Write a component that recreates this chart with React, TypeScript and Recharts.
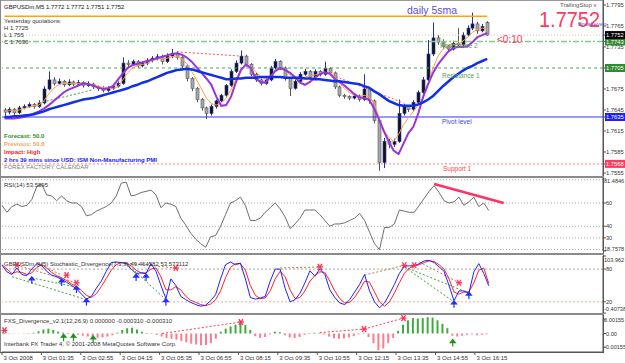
import React from 'react'
import { ComposedChart, Bar, Line, XAxis, YAxis, ReferenceLine, ReferenceDot, Cell } from 'recharts'

const FONT = '"Liberation Sans", Arial, sans-serif'
const W = 625
const SLOTS = 122

// prices are in pips above 1.7500 (GBPUSD M5, 3 Oct 2008)
const opens = [
  145, 142, 146, 141, 148, 150, 153, 150, 155, 175,
  188, 183, 186, 181, 185, 182, 184, 180, 182, 178,
  176, 173, 176, 179, 183, 212, 210, 214, 208, 212,
  216, 219, 221, 214, 222, 226, 220, 208, 190, 176,
  160, 148, 140, 150, 158, 166, 180, 200, 212, 222,
  210, 196, 188, 183, 188, 205, 214, 205, 190, 176,
  186, 196, 200, 192, 200, 196, 204, 198, 178, 166,
  164, 162, 165, 160, 175, 158, 130, 70, 100, 96,
  100, 140, 150, 146, 156, 170, 188, 225, 248, 242,
  236, 232, 240, 238, 252, 262, 268, 258, 270,
]
const highs = [
  148, 149, 148, 151, 153, 156, 155, 159, 179, 200,
  192, 190, 188, 189, 187, 188, 186, 186, 184, 180,
  179, 179, 182, 186, 220, 216, 217, 216, 215, 219,
  222, 225, 224, 226, 232, 229, 222, 210, 192, 178,
  162, 150, 153, 160, 168, 182, 203, 216, 230, 224,
  212, 198, 190, 191, 208, 218, 216, 207, 192, 189,
  199, 204, 202, 203, 202, 214, 206, 200, 180, 168,
  166, 168, 167, 196, 177, 160, 132, 105, 104, 104,
  160, 154, 152, 159, 173, 192, 245, 270, 252, 246,
  238, 244, 262, 256, 266, 284, 271, 268, 272,
]
const lows = [
  136, 139, 138, 139, 146, 148, 147, 148, 153, 173,
  180, 181, 178, 179, 179, 180, 177, 178, 175, 172,
  170, 171, 174, 177, 181, 206, 208, 205, 206, 209,
  213, 216, 210, 212, 219, 217, 204, 186, 172, 156,
  144, 132, 137, 147, 156, 164, 178, 198, 210, 207,
  193, 185, 180, 181, 186, 203, 202, 187, 165, 174,
  184, 194, 189, 190, 193, 194, 195, 175, 163, 161,
  159, 160, 157, 158, 154, 126, 58, 62, 90, 92,
  98, 137, 142, 143, 154, 167, 186, 222, 238, 232,
  228, 230, 235, 236, 250, 259, 254, 256, 251,
]
const closes = [
  142, 146, 141, 148, 150, 153, 150, 155, 175, 188,
  183, 186, 181, 185, 182, 184, 180, 182, 178, 176,
  173, 176, 179, 183, 212, 210, 214, 208, 212, 216,
  219, 221, 214, 222, 226, 220, 208, 190, 176, 160,
  148, 140, 150, 158, 166, 180, 200, 212, 222, 210,
  196, 188, 183, 188, 205, 214, 205, 190, 176, 186,
  196, 200, 192, 200, 196, 204, 198, 178, 166, 164,
  162, 165, 160, 175, 158, 130, 70, 100, 96, 100,
  140, 150, 146, 156, 170, 188, 225, 248, 242, 236,
  232, 240, 238, 252, 262, 268, 258, 264, 252,
]
const slowMa = [
  135, 135, 136, 136, 137, 138, 139, 141, 143, 146,
  148, 150, 152, 154, 156, 158, 160, 161, 162, 164,
  166, 168, 170, 172, 174, 176, 179, 181, 184, 186,
  189, 192, 195, 198, 200, 202, 203, 204, 203, 201,
  199, 197, 195, 193, 191, 189, 189, 190, 190, 191,
  191, 191, 192, 192, 192, 192, 192, 191, 191, 191,
  191, 190, 190, 189, 189, 188, 187, 186, 186, 185,
  184, 183, 182, 179, 177, 172, 168, 163, 158, 155,
  152, 151, 151, 151, 153, 156, 160, 165, 172, 179,
  185, 191, 196, 201, 205, 208, 212, 215, 218,
]
const midMa = [
  133, 133, 133, 134, 135, 137, 140, 143, 147, 152,
  158, 164, 170, 174, 177, 180, 183, 182, 180, 177,
  175, 176, 179, 188, 197, 205, 209, 211, 213, 215,
  217, 219, 221, 223, 225, 226, 224, 220, 214, 206,
  198, 190, 181, 164, 151, 152, 164, 185, 202, 210,
  205, 190, 185, 184, 193, 201, 205, 202, 198, 192,
  184, 181, 185, 191, 196, 199, 197, 190, 185, 180,
  174, 168, 163, 162, 160, 148, 132, 115, 100, 87,
  82, 97, 112, 121, 140, 164, 182, 198, 210, 219,
  228, 233, 235, 235, 236, 242, 249, 252, 255,
]
const fastMa = [
  143, 144, 144, 145, 147, 149, 151, 152, 158, 168,
  176, 181, 183, 183, 183, 183, 182, 182, 181, 179,
  177, 176, 176, 178, 188, 198, 205, 208, 210, 212,
  215, 218, 218, 219, 221, 221, 218, 211, 200, 188,
  175, 162, 154, 152, 155, 162, 174, 189, 203, 210,
  207, 200, 193, 189, 192, 200, 204, 202, 195, 189,
  189, 192, 194, 195, 196, 198, 199, 193, 184, 176,
  170, 166, 164, 166, 164, 155, 135, 116, 106, 100,
  110, 124, 134, 143, 152, 163, 182, 205, 222, 232,
  236, 238, 239, 243, 249, 256, 260, 262, 260,
]
const rsi = [
  58, 52, 57, 59, 57, 58, 63, 74, 76, 67,
  66, 62, 66, 62, 60, 60, 57, 49, 50, 53,
  55, 57, 60, 66, 77, 78, 66, 67, 69, 70,
  71, 67, 56, 60, 59, 57, 47, 41, 34, 29,
  25, 22, 31, 32, 40, 50, 60, 62, 65, 58,
  45, 45, 47, 52, 56, 60, 55, 48, 38, 42,
  47, 54, 54, 54, 50, 45, 40, 42, 42, 43,
  45, 47, 51, 45, 35, 25, 20, 39, 39, 42,
  54, 53, 52, 52, 58, 64, 70, 75, 69, 62,
  60, 61, 65, 58, 61, 65, 57, 60, 53.59,
]
const stochK = [
  87, 75, 70, 82, 70, 68, 80, 90, 86, 76,
  69, 66, 61, 56, 50, 44, 34, 25, 30, 45,
  58, 76, 92, 93, 92, 90, 80, 72, 73, 72,
  90, 76, 50, 26, 62, 50, 30, 24, 19, 15,
  12, 14, 22, 33, 62, 88, 93, 88, 91, 62,
  28, 25, 27, 30, 58, 80, 80, 45, 20, 24,
  36, 55, 77, 67, 80, 70, 42, 28, 18, 15,
  24, 38, 52, 70, 40, 20, 9, 18, 34, 52,
  72, 85, 86, 86, 90, 95, 96, 92, 84, 76,
  50, 22, 40, 40, 36, 75, 90, 72, 49.46,
]
const stochD = [
  88, 80, 72, 75, 74, 70, 73, 83, 88, 82,
  74, 68, 64, 59, 53, 48, 41, 32, 28, 35,
  48, 63, 78, 88, 92, 91, 86, 78, 73, 73,
  80, 82, 66, 42, 42, 48, 42, 30, 23, 19,
  15, 13, 16, 24, 40, 64, 83, 90, 90, 78,
  50, 32, 26, 27, 40, 62, 76, 66, 42, 26,
  28, 40, 58, 68, 75, 74, 58, 40, 26, 18,
  19, 28, 42, 58, 56, 38, 20, 12, 20, 36,
  55, 72, 82, 86, 88, 92, 95, 94, 88, 80,
  62, 38, 34, 38, 38, 55, 78, 82, 53.57,
]
// FXS histogram, units of 0.00001
const fxs = [
  5, 3, 2, 2, 3, 4, 8, 25, 45, 55,
  40, 22, 10, 5, -8, -15, -25, -35, -45, -50,
  -45, -35, -20, 10, 40, 60, 65, 45, 20, 5,
  -5, -15, -35, -50, -60, -70, -85, -100, -115, -125,
  -135, -130, -110, -60, 20, 55, 80, 100, 115, 95,
  40, -30, -50, -40, -10, 20, 15, -20, -45, -50,
  -40, -15, 5, 8, 5, -10, -35, -55, -60, -55,
  -45, -30, -10, 5, -40, -110, -190, -170, -110, -50,
  30, 100, 150, 175, 170, 175, 185, 180, 150, 110,
  60, -25, -35, -25, -15, -10, -20, -15, -10,
]

const timeLabels = [
  '3 Oct 2008', '3 Oct 01:35', '3 Oct 02:55', '3 Oct 04:15', '3 Oct 05:35', '3 Oct 06:55',
  '3 Oct 08:15', '3 Oct 09:35', '3 Oct 10:55', '3 Oct 12:15', '3 Oct 13:35', '3 Oct 14:55', '3 Oct 16:15',
]
const timeTickIdx = [0, 8, 16, 24, 32, 40, 48, 56, 64, 72, 80, 88, 96]

const priceTicks = [295, 265, 235, 175, 145, 115, 85, 55, 243, 252, 205, 135, 68]
const priceBoxes: Record<number, string> = { 252: '#000000', 243: '#2e8b2e', 205: '#2e8b2e', 135: '#1f1fff', 68: '#ff3a5c' }
const rsiTicks = [81.4846, 60, 40, 30, 18.7578]
const rsiLevels = [80, 60, 40, 30, 20]
const stochTicks = [103.962, 80, 20, -0.40738]
const fxsTicks = [155, 0, -155]

// divergence marks [slot, value] and segments [slot1, v1, slot2, v2]
const priceRedLines = [[35, 228, 48, 222], [65, 199, 81, 155]]
const priceGreenLines = [[7, 155, 18, 174]]
const stochStars = [[3, 87], [13, 69], [15, 55], [35, 82], [64, 84], [81, 87], [83, 87], [92, 55]]
const stochArrows = [[6, 64], [12, 60], [15, 47], [17, 24], [27, 69], [29, 69], [33, 24], [91, 20], [94, 36]]
const stochBrownLines = [[3, 87, 15, 55], [7, 91, 12, 69], [25, 91, 35, 82], [56, 82, 64, 84], [73, 69, 81, 87], [84, 93, 92, 55]]
const stochGreenLines = [[2, 66, 17, 24], [6, 64, 15, 47], [25, 91, 33, 24], [81, 84, 91, 20], [81, 84, 94, 36]]
const fxsStars = [[0, 35], [48, 130], [73, 50], [81, 175]]
const fxsArrows = [[12, -20], [14, -20], [18, -40], [91, -80]]
const fxsRedLines = [[32, 0, 48, 130], [64, 10, 73, 50], [73, 50, 81, 175]]

const rows = Array.from({ length: SLOTS }, (_, i) => ({
  i,
  o: opens[i] ?? null,
  h: highs[i] ?? null,
  l: lows[i] ?? null,
  c: closes[i] ?? null,
  slow: slowMa[i] ?? null,
  mid: midMa[i] ?? null,
  fast: fastMa[i] ?? null,
  rsi: rsi[i] ?? null,
  k: stochK[i] ?? null,
  d: stochD[i] ?? null,
  fx: fxs[i] ?? null,
}))

function Candle(props: any) {
  const { x, y, width, height, payload } = props
  if (!payload || payload.o == null) return null
  const { o, h, l, c } = payload
  const cx = Math.round(x + width / 2) + 0.5
  const range = h - l || 1
  const py = (v: number) => y + ((h - v) / range) * height
  const top = py(Math.max(o, c))
  const bot = py(Math.min(o, c))
  const up = c >= o
  const edge = up ? '#2233aa' : '#555'
  return (
    <g>
      <line x1={cx} x2={cx} y1={y} y2={y + height} stroke={edge} strokeWidth={1} />
      <rect x={cx - 1.5} y={top} width={3} height={Math.max(bot - top, 0.8)} fill={up ? '#151515' : '#a8a8a8'} stroke={edge} strokeWidth={0.6} />
    </g>
  )
}

function PriceTick(props: any) {
  const { x, y, payload } = props
  const v = payload.value
  const label = (1.75 + v / 10000).toFixed(4)
  const box = priceBoxes[v]
  if (box) {
    return (
      <g>
        <rect x={x - 1} y={y - 4} width={21} height={8} fill={box} />
        <text x={x} y={y + 2.2} fontSize={5.8} fontFamily={FONT} fill="#fff">{label}</text>
      </g>
    )
  }
  return <text x={x} y={y + 2.2} fontSize={5.8} fontFamily={FONT} fill="#333">{label}</text>
}

function makeTick(fmt: (v: number) => string, shift: (v: number) => number) {
  return (props: any) => {
    const { x, y, payload } = props
    const v = payload.value
    const s = fmt(v)
    return (
      <text x={s.length > 6 ? x - 2 : x} y={y + 2.2 + shift(v)} fontSize={5.6} fontFamily={FONT} fill="#333">
        {s}
      </text>
    )
  }
}

function TimeTick(props: any) {
  const { x, y, payload } = props
  const k = timeTickIdx.indexOf(payload.value)
  if (k < 0) return null
  return (
    <g>
      <line x1={x - 2.5} x2={x - 2.5} y1={y} y2={y + 3} stroke="#555" />
      <text x={x - 1} y={y + 8} fontSize={6} fontFamily={FONT} fill="#333">{timeLabels[k]}</text>
    </g>
  )
}

const Star = (p: any, color: string) => (
  <g stroke={color} strokeWidth={1.3}>
    <line x1={p.cx - 3} x2={p.cx + 3} y1={p.cy} y2={p.cy} />
    <line x1={p.cx - 2} x2={p.cx + 2} y1={p.cy - 3} y2={p.cy + 3} />
    <line x1={p.cx + 2} x2={p.cx - 2} y1={p.cy - 3} y2={p.cy + 3} />
  </g>
)
const Arrow = (p: any, color: string) => (
  <g stroke={color} fill={color} strokeWidth={1.2}>
    <line x1={p.cx} x2={p.cx} y1={p.cy} y2={p.cy + 6} />
    <path d={`M${p.cx - 2.5},${p.cy + 2} L${p.cx},${p.cy - 1} L${p.cx + 2.5},${p.cy + 2} Z`} />
  </g>
)

const seg = (s: number[]) => [{ x: s[0], y: s[1] }, { x: s[2], y: s[3] }]

const axisProps = {
  orientation: 'right' as const,
  width: 22,
  tickSize: 3,
  tickMargin: 0,
  interval: 0 as const,
  allowDataOverflow: true,
  axisLine: { stroke: '#555' },
  tickLine: { stroke: '#555' },
}

export default function App() {
  const abs = (top: number): React.CSSProperties => ({ position: 'absolute', left: 0, top })
  return (
    <div style={{ position: 'absolute', left: 0, top: 0, width: W, height: 363, background: '#fff', fontFamily: FONT, overflow: 'hidden' }}>
      <div style={abs(0)}>
        <ComposedChart width={W} height={177} data={rows} margin={{ top: 1, right: 0, bottom: 1, left: 2 }} barCategoryGap="0%">
          <XAxis dataKey="i" hide />
          <YAxis {...axisProps} domain={[50.7, 300.7]} ticks={priceTicks} tick={<PriceTick />} />
          <ReferenceLine y={252} stroke="#d8c0c0" strokeDasharray="1 2" />
          <ReferenceLine y={243} stroke="#8cc88c" strokeWidth={1.5} strokeDasharray="6 2 2 2" />
          <ReferenceLine y={205} stroke="#44b044" strokeDasharray="3 3" />
          <ReferenceLine y={135} stroke="#3333ff" />
          <ReferenceLine y={68} stroke="#ff8080" strokeDasharray="2 2" />
          <ReferenceLine segment={[{ x: 0, y: 279 }, { x: 98, y: 279 }]} stroke="#ffa500" strokeWidth={1.5} />
          {priceRedLines.map((s, n) => (
            <ReferenceLine key={'r' + n} segment={seg(s)} stroke="#ff5050" strokeDasharray="2 2" />
          ))}
          {priceGreenLines.map((s, n) => (
            <ReferenceLine key={'g' + n} segment={seg(s)} stroke="#40a040" strokeDasharray="2 2" />
          ))}
          <Bar dataKey={(d: any) => (d.o == null ? null : [d.l, d.h])} shape={(p: any) => <Candle {...p} />} isAnimationActive={false} />
          <Line dataKey="fast" stroke="#ffa040" strokeWidth={1} dot={false} isAnimationActive={false} />
          <Line dataKey="mid" stroke="#9933dd" strokeWidth={2} dot={false} isAnimationActive={false} />
          <Line dataKey="slow" stroke="#1030e8" strokeWidth={2.5} dot={false} isAnimationActive={false} />
        </ComposedChart>
      </div>

      <div style={abs(178)}>
        <ComposedChart width={W} height={74} data={rows} margin={{ top: 0, right: 0, bottom: 1, left: 2 }}>
          <XAxis dataKey="i" hide />
          <YAxis
            {...axisProps}
            domain={[18.7578, 81.4846]}
            ticks={rsiTicks}
            tick={makeTick((v) => String(v), (v) => (v > 80 ? 3 : v < 20 ? -2 : 0))}
          />
          {rsiLevels.map((v) => (
            <ReferenceLine key={v} y={v} stroke="#a8a8a8" strokeDasharray="1 2" />
          ))}
          <Line dataKey="rsi" stroke="#6e6e6e" strokeWidth={1} dot={false} isAnimationActive={false} />
          <ReferenceLine segment={[{ x: 87, y: 76.3 }, { x: 101, y: 60 }]} stroke="#ff3366" strokeWidth={2.5} />
        </ComposedChart>
      </div>

      <div style={abs(255)}>
        <ComposedChart width={W} height={59} data={rows} margin={{ top: 1, right: 0, bottom: 1, left: 2 }}>
          <XAxis dataKey="i" hide />
          <YAxis
            {...axisProps}
            domain={[-0.40738, 103.962]}
            ticks={stochTicks}
            tick={makeTick((v) => String(v), (v) => (v > 100 ? 4 : v < 0 ? -4 : 0))}
          />
          <ReferenceLine y={80} stroke="#a8a8a8" strokeDasharray="2 2" />
          <ReferenceLine y={20} stroke="#f0b090" strokeDasharray="2 2" />
          {stochBrownLines.map((s, n) => (
            <ReferenceLine key={'b' + n} segment={seg(s)} stroke="#c07a40" strokeDasharray="2 2" />
          ))}
          {stochGreenLines.map((s, n) => (
            <ReferenceLine key={'g' + n} segment={seg(s)} stroke="#40a040" strokeDasharray="2 2" />
          ))}
          <Line dataKey="d" stroke="#ff2020" strokeWidth={1} dot={false} isAnimationActive={false} />
          <Line dataKey="k" stroke="#2020ff" strokeWidth={1} dot={false} isAnimationActive={false} />
          {stochStars.map((m, n) => (
            <ReferenceDot key={'s' + n} x={m[0]} y={m[1]} shape={(p: any) => Star(p, '#ff3050')} />
          ))}
          {stochArrows.map((m, n) => (
            <ReferenceDot key={'a' + n} x={m[0]} y={m[1]} shape={(p: any) => Arrow(p, '#2030ff')} />
          ))}
        </ComposedChart>
      </div>

      <div style={abs(314)}>
        <ComposedChart width={W} height={49} data={rows} margin={{ top: 1, right: 0, bottom: 0, left: 2 }}>
          <XAxis dataKey="i" height={11} interval={0} tick={<TimeTick />} tickLine={false} tickSize={0} tickMargin={0} axisLine={{ stroke: '#555' }} />
          <YAxis
            {...axisProps}
            domain={[-210, 210]}
            ticks={fxsTicks}
            tick={makeTick((v) => (v === 0 ? '0.00' : (v / 100000).toFixed(5)), () => 0)}
          />
          <Bar dataKey="fx" barSize={2} isAnimationActive={false}>
            {rows.map((r) => (
              <Cell key={r.i} fill={(r.fx ?? 0) >= 0 ? '#3faa3f' : '#ff7a8c'} />
            ))}
          </Bar>
          {fxsRedLines.map((s, n) => (
            <ReferenceLine key={'r' + n} segment={seg(s)} stroke="#ff4050" strokeDasharray="2 2" />
          ))}
          {fxsStars.map((m, n) => (
            <ReferenceDot key={'s' + n} x={m[0]} y={m[1]} shape={(p: any) => Star(p, '#ff3050')} />
          ))}
          {fxsArrows.map((m, n) => (
            <ReferenceDot key={'a' + n} x={m[0]} y={m[1]} shape={(p: any) => Arrow(p, '#209020')} />
          ))}
        </ComposedChart>
      </div>

      <svg width={W} height={363} style={{ position: 'absolute', left: 0, top: 0, pointerEvents: 'none' }} fontFamily={FONT}>
        <line x1={0} x2={604} y1={0.5} y2={0.5} stroke="#999" />
        <line x1={0.5} x2={0.5} y1={0} y2={352} stroke="#888" />
        <line x1={603.5} x2={603.5} y1={0} y2={352} stroke="#555" />
        <rect x={0} y={176} width={604} height={2} fill="#8a8a8a" />
        <rect x={0} y={253} width={604} height={2} fill="#8a8a8a" />
        <rect x={0} y={313} width={604} height={2} fill="#8a8a8a" />
        <line x1={0} x2={604} y1={352.5} y2={352.5} stroke="#555" />

        <text x={4} y={9} fontSize={6} fill="#111">GBPUSDm,M5  1.7772 1.7772 1.7751 1.7752</text>
        <text x={4} y={22.5} fontSize={6} fill="#333">Yesterday quotations:</text>
        <text x={4} y={30} fontSize={6} fill="#333">H 1.7725</text>
        <text x={4} y={37} fontSize={6} fill="#333">L 1.755</text>
        <text x={4} y={44} fontSize={6} fill="#333">C 1.7630</text>

        <text x={407} y={14} fontSize={10.5} fill="#5b4fd6">daily 5sma</text>
        <text x={560} y={7} fontSize={6} fill="#555">TrailingStop  x</text>
        <text x={539} y={27} fontSize={22} textLength={61} lengthAdjust="spacingAndGlyphs" fill="#ff3a5c">1.7752</text>
        <text x={578} y={26} fontSize={6} fill="#6a5acd">Breakeven</text>
        <text x={497} y={43} fontSize={10} fill="#ff3a5c">{'<0:10'}</text>
        <text x={440} y={48} fontSize={6.5} fill="#5aa05a">Resistance 2</text>
        <text x={442} y={78} fontSize={6.5} fill="#5aa05a">Resistance 1</text>
        <text x={442} y={124} fontSize={6.5} fill="#4444dd">Pivot level</text>
        <text x={443} y={171} fontSize={6.5} fill="#ff4444">Support 1</text>

        <text x={4} y={138} fontSize={6} fontWeight="bold" fill="#2e8b2e">Forecast: 50.0</text>
        <text x={4} y={146} fontSize={6} fontWeight="bold" fill="#f4a460">Previous: 50.6</text>
        <text x={4} y={154} fontSize={6} fontWeight="bold" fill="#ff2020">Impact: High</text>
        <text x={4} y={162} fontSize={6} fontWeight="bold" fill="#2020ff">2 hrs 39 mins since USD: ISM Non-Manufacturing PMI</text>
        <text x={4} y={169} fontSize={6} fill="#808080">FOREX FACTORY CALENDAR</text>

        <text x={4} y={187} fontSize={6} fill="#333">RSI(14) 53.5895</text>
        <text x={4} y={265.5} fontSize={6} fill="#333">GBPUSDm (M5)  Stochastic_Divergence(7,3,3) 49.464582 53.573112</text>
        <text x={4} y={322.5} fontSize={6} fill="#333">FXS_Divergence_v2.1(12,26,9) 0.000000 -0.000310 -0.000310</text>
        <text x={4} y={345.5} fontSize={6} fill="#333">Interbank FX Trader 4, © 2001-2008 MetaQuotes Software Corp.</text>
      </svg>
    </div>
  )
}
